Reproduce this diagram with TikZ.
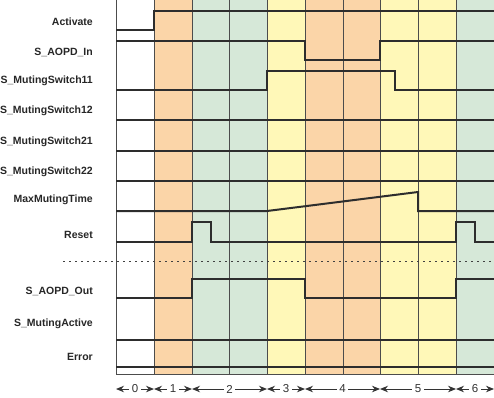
\documentclass[tikz,border=0pt]{standalone}
\usepackage{fontspec}
\setmainfont{Liberation Sans}
\usetikzlibrary{arrows.meta}

\definecolor{orng}{RGB}{251,213,168}
\definecolor{grn}{RGB}{214,232,216}
\definecolor{ylw}{RGB}{255,248,184}
\definecolor{sig}{RGB}{45,45,45}

\begin{document}
\begin{tikzpicture}[x=1pt, y=-1pt]

	\tikzstyle{lbl}=[anchor=east, inner sep=0pt, font=\fontsize{10.5}{12}\selectfont\bfseries, text=black!85]
	\tikzstyle{grid}=[line width=0.8pt, black!70]
	\tikzstyle{signal}=[line width=2pt, sig, line join=miter]
	\tikzstyle{phase}=[{Stealth[length=8pt,width=6.5pt]}-{Stealth[length=8pt,width=6.5pt]}, line width=0.9pt, black!80]
	\tikzstyle{num}=[fill=white, inner sep=2.5pt, font=\fontsize{11.5}{13}\selectfont, text=black!80]

	\useasboundingbox (0,0) rectangle (494,397);

	% phase backgrounds
	\foreach \xa/\xb/\col in {154/192/orng, 192/267/grn, 267/305/ylw, 305/380/orng, 380/456/ylw, 456/494/grn}
		\fill[\col] (\xa,0) rectangle (\xb,374);
	\foreach \x in {116,154,192,229,267,305,343,380,418,456}
		\draw[grid] (\x,0) -- (\x,374);
	\draw[grid] (116,374) -- (494,374);

	% signal names
	\node[lbl] (activate) at (93,22)  {Activate};
	\node[lbl] (aopdin)   at (93,52)  {S\_AOPD\_In};
	\node[lbl] (sw11)     at (93,81)  {S\_MutingSwitch11};
	\node[lbl] (sw12)     at (93,111) {S\_MutingSwitch12};
	\node[lbl] (sw21)     at (93,142) {S\_MutingSwitch21};
	\node[lbl] (sw22)     at (93,172) {S\_MutingSwitch22};
	\node[lbl] (maxtime)  at (93,200) {MaxMutingTime};
	\node[lbl] (reset)    at (93,235) {Reset};
	\node[lbl] (aopdout)  at (93,291) {S\_AOPD\_Out};
	\node[lbl] (active)   at (93,324) {S\_MutingActive};
	\node[lbl] (error)    at (93,357) {Error};

	% signals
	\draw[signal] (116,30) -- (154,30) -- (154,11) -- (494,11);
	\draw[signal] (116,41) -- (305,41) -- (305,60) -- (380,60) -- (380,41) -- (494,41);
	\draw[signal] (116,90) -- (267,90) -- (267,71) -- (395,71) -- (395,90) -- (494,90);
	\draw[signal] (116,120) -- (494,120);
	\draw[signal] (116,151) -- (494,151);
	\draw[signal] (116,181) -- (494,181);
	\draw[signal] (116,211) -- (267,211) -- (418,192) -- (418,211) -- (494,211);
	\draw[signal] (116,242) -- (192,242) -- (192,222) -- (211,222) -- (211,242) -- (456,242) -- (456,222) -- (475,222) -- (475,242) -- (494,242);
	\draw[black!75, line width=0.8pt, dash pattern=on 2pt off 4pt] (63,261) -- (494,261);
	\draw[signal] (116,298) -- (192,298) -- (192,279) -- (305,279) -- (305,298) -- (456,298) -- (456,279) -- (494,279);
	\draw[signal] (116,340) -- (494,340);
	\draw[signal] (116,367) -- (494,367);

	% phases
	\foreach \xa/\xb/\n in {116/154/0, 154/192/1, 192/267/2, 267/305/3, 305/380/4, 380/456/5, 456/494/6}
		\draw[phase] (\xa,389) -- node[num] (p\n) {\n} (\xb,389);

\end{tikzpicture}
\end{document}
